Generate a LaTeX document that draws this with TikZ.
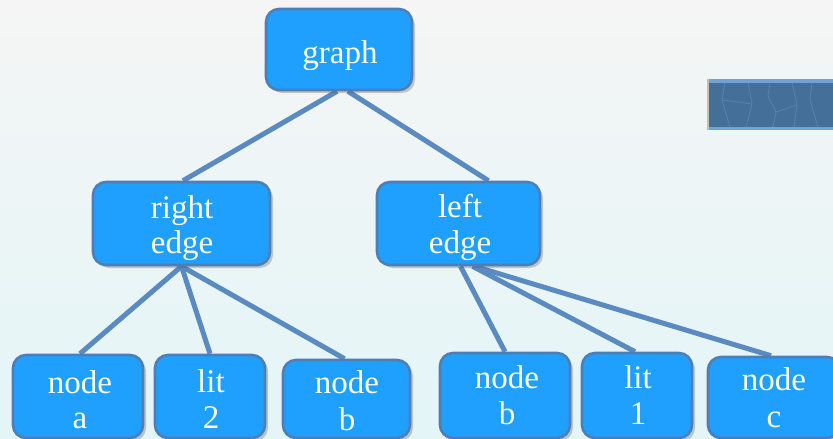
\documentclass[tikz,border=0pt]{standalone}
\usepackage{fontspec}
\setmainfont{Liberation Serif}
\usetikzlibrary{shadows}
\definecolor{boxfill}{HTML}{1FA0FF}
\definecolor{boxline}{HTML}{4F7EB6}
\definecolor{linkcol}{HTML}{5A8AC2}
\definecolor{bgtop}{HTML}{F5F5F5}
\definecolor{bgbot}{HTML}{E3F5F7}
\definecolor{decorfill}{HTML}{446F99}
\definecolor{decoredge}{HTML}{6FA2D6}
\definecolor{decorcrack}{HTML}{5581AC}
\pgfdeclarelayer{back}
\pgfdeclarelayer{links}
\pgfsetlayers{back,links,main}
\tikzset{
  treebox/.style={rectangle, rounded corners=13pt, fill=boxfill, draw=boxline,
    line width=2.6pt, inner sep=0pt,
    drop shadow={shadow xshift=3pt, shadow yshift=-3pt, opacity=0.28, fill=black!70}},
  boxtxt/.style={anchor=base, text=white, inner sep=0pt,
    font=\fontsize{33}{35}\selectfont},
  link/.style={draw=linkcol, line width=5pt}
}
\begin{document}
\begin{tikzpicture}[x=1pt, y=-1pt]
\useasboundingbox (0,0) rectangle (833,439);
\begin{pgfonlayer}{back}
  \shade[top color=bgtop, bottom color=bgbot] (0,0) rectangle (833,439);
  % decorative strip
  \fill[decorfill] (708,79) rectangle (833,130);
  \draw[decorcrack, line width=0.9pt]
    (725,82) -- (722,100) -- (730,127)
    (748,82) -- (752,104) -- (746,127)
    (770,82) -- (768,96) -- (776,112) -- (773,127)
    (792,82) -- (797,105) -- (794,127)
    (812,82) -- (810,100) -- (818,127)
    (722,100) -- (752,104)
    (776,112) -- (797,105);
  \fill[decoredge] (708,79) rectangle (833,82.5);
  \fill[decoredge] (708,126.5) rectangle (833,130);
  \fill[black!25] (707,79) rectangle (708.5,130);
\end{pgfonlayer}

% boxes
\node[treebox, minimum width=146pt, minimum height=81pt] (g)  at (339,49.5) {};
\node[treebox, minimum width=177pt, minimum height=83pt] (re) at (181.5,223.5) {};
\node[treebox, minimum width=163pt, minimum height=83pt] (le) at (458.5,223.5) {};
\node[treebox, minimum width=130pt, minimum height=83pt] (na) at (78,396.5) {};
\node[treebox, minimum width=110pt, minimum height=83pt] (l2) at (210,396.5) {};
\node[treebox, minimum width=127pt, minimum height=78pt] (nb) at (346.5,399) {};
\node[treebox, minimum width=130pt, minimum height=85pt] (nb2) at (505,395.5) {};
\node[treebox, minimum width=110pt, minimum height=85pt] (l1) at (637,395.5) {};
\node[treebox, minimum width=132pt, minimum height=81pt] (nc) at (774,397.5) {};

% texts
\node[boxtxt] (tg)  at (340,63) {graph};
\node[boxtxt] (tre1) at (182,218) {right};
\node[boxtxt] (tre2) at (182,253) {edge};
\node[boxtxt] (tle1) at (460,217) {left};
\node[boxtxt] (tle2) at (460,253) {edge};
\node[boxtxt] (tna1) at (80,393) {node};
\node[boxtxt] (tna2) at (80,428) {a};
\node[boxtxt] (tl21) at (211,392) {lit};
\node[boxtxt] (tl22) at (211,428) {2};
\node[boxtxt] (tnb1) at (347,393) {node};
\node[boxtxt] (tnb2) at (347,430) {b};
\node[boxtxt] (tnc1) at (507,388) {node};
\node[boxtxt] (tnc2) at (507,424) {b};
\node[boxtxt] (tl11) at (638,388) {lit};
\node[boxtxt] (tl12) at (638,424) {1};
\node[boxtxt] (tnd1) at (774,390) {node};
\node[boxtxt] (tnd2) at (774,427) {c};

% connectors
\begin{pgfonlayer}{links}
  \draw[link] ([xshift=-2pt]g.south) -- ([xshift=1.5pt]re.north);
  \draw[link] ([xshift=9pt]g.south) -- ([xshift=30pt]le.north);
  \draw[link] (re.south) -- ([xshift=2pt]na.north);
  \draw[link] (re.south) -- (l2.north);
  \draw[link] (re.south) -- ([xshift=-2pt]nb.north);
  \draw[link] ([xshift=2pt]le.south) -- (nb2.north);
  \draw[link] ([xshift=14pt]le.south) -- ([xshift=-2pt]l1.north);
  \draw[link] ([xshift=16pt]le.south) -- ([xshift=-3pt]nc.north);
\end{pgfonlayer}
\end{tikzpicture}
\end{document}
